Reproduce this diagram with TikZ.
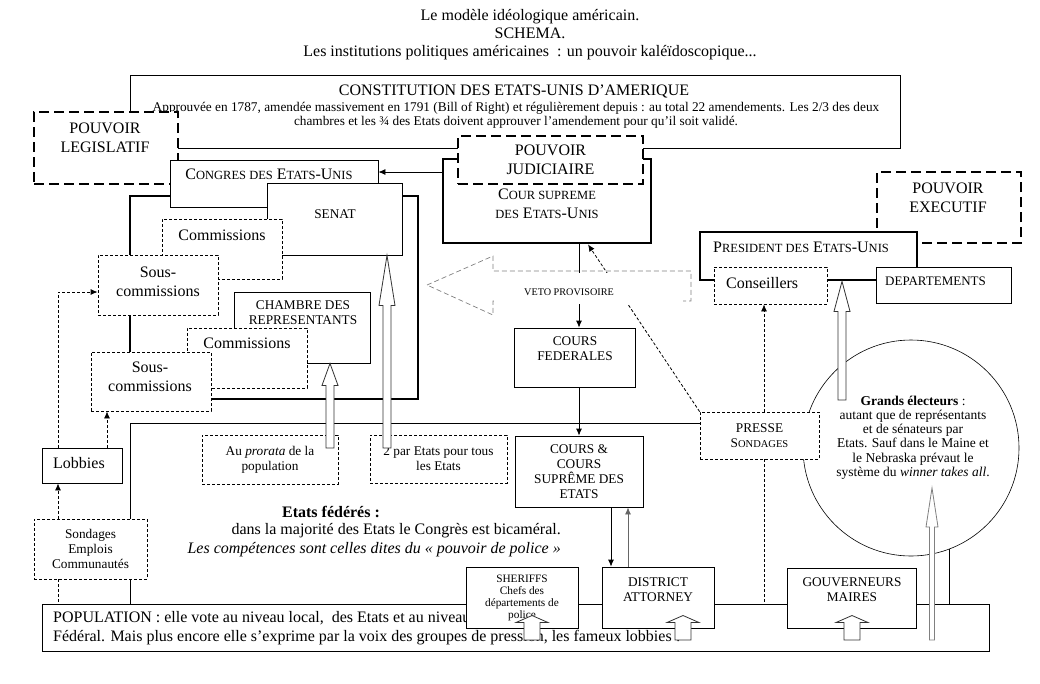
\documentclass[tikz,border=0pt]{standalone}
\usepackage{fontspec}
\setmainfont{Liberation Serif}
\usetikzlibrary{calc,positioning,arrows.meta}

% small capitals written by hand
\newcommand{\sca}[1]{{\fontsize{12.5}{12.5}\selectfont #1}}
\newcommand{\scb}[1]{{\fontsize{10.5}{10.5}\selectfont #1}}
% hollow arrow pointing up: style, tail, tip, head length, head half width, shaft half width
\newcommand{\blockarrow}[6]{%
  \draw[#1] ($(#2)+(-#6,0)$) -- ($(#3)+(-#6,#4)$) -- ($(#3)+(-#5,#4)$) -- (#3)
    -- ($(#3)+(#5,#4)$) -- ($(#3)+(#6,#4)$) -- ($(#2)+(#6,0)$) -- cycle;}

\tikzset{
  box/.style={draw, fill=white, line width=0.8pt, inner sep=0pt},
  thickbox/.style={box, line width=2.8pt},
  dbox/.style={box, dash pattern=on 3pt off 2pt},
  pouvoir/.style={box, line width=2.8pt, dash pattern=on 10pt off 5pt},
  txtbig/.style={font=\fontsize{16}{19}\selectfont, align=center, inner sep=0pt},
  txtmid/.style={font=\fontsize{13.3}{15}\selectfont, align=center, inner sep=0pt},
  txtsmall/.style={font=\fontsize{11.3}{12}\selectfont, align=center, inner sep=0pt},
  arr/.style={-{Latex[length=7pt,width=6pt]}, line width=0.8pt},
  darr/.style={arr, dash pattern=on 3pt off 2pt},
  dline/.style={line width=0.8pt, dash pattern=on 3pt off 2pt},
  hollow/.style={draw=black!80, fill=white, line width=0.8pt},
}

\begin{document}
\begin{tikzpicture}[x=1pt,y=-1pt]
\useasboundingbox (0,0) rectangle (1040,683);

% Title
\node[txtbig, font=\fontsize{16}{18}\selectfont] (title) at (530,35) {Le modèle idéologique américain.\\SCHEMA.\\Les institutions politiques américaines~ : un pouvoir kaléïdoscopique...};

% Frame of the congress
\draw[line width=2.8pt] (130,196) rectangle (418,399);

% Constitution
\node[box, minimum width=770pt, minimum height=73pt] (constitution) at (515,111.5) {};
\node[txtbig] (constitutionT) at (514,91) {CONSTITUTION DES ETATS-UNIS D’AMERIQUE};
\node[txtmid, font=\fontsize{13.3}{14.5}\selectfont] (constitutionS) at (516,115) {Approuvée en 1787, amendée massivement en 1791 (Bill of Right) et régulièrement depuis : au total 22 amendements. Les 2/3 des deux\\chambres et les ¾ des Etats doivent approuver l’amendement pour qu’il soit validé.};

% Legislative power
\node[pouvoir, minimum width=144pt, minimum height=72pt] (legislatif) at (106,148) {};
\node[txtbig] (legislatifT) at (105,137.5) {POUVOIR\\LEGISLATIF};

% Judicial power
\node[thickbox, minimum width=208pt, minimum height=84pt] (courSupreme) at (547,201) {};
\node[txtbig] (courSupremeT) at (547,203.5) {C\sca{OUR SUPREME}\\\sca{DES} E\sca{TATS}-U\sca{NIS}};
\node[pouvoir, txtbig, minimum width=185pt, minimum height=48pt] (judiciaire) at (550.5,160) {POUVOIR\\JUDICIAIRE};

% Congress, senate and house
\node[box, minimum width=208pt, minimum height=47pt] (congres) at (274,183.5) {};
\node[txtbig] (congresT) at (269,174) {C\sca{ONGRES DES} E\sca{TATS}-U\sca{NIS}};
\node[box, minimum width=135pt, minimum height=72pt] (senat) at (334.5,219) {};
\node[txtmid] (senatT) at (335,214) {SENAT};
\node[dbox, minimum width=120pt, minimum height=60pt] (comSenat) at (222,249) {};
\node[txtbig] (comSenatT) at (222,235) {Commissions};
\node[dbox, minimum width=120pt, minimum height=60pt] (sousSenat) at (158,285) {};
\node[txtbig] (sousSenatT) at (158,281.5) {Sous-\\commissions};
\node[box, minimum width=136pt, minimum height=71pt] (chambre) at (302,327.5) {};
\node[txtmid] (chambreT) at (303,312.5) {CHAMBRE DES\\REPRESENTANTS};
\node[dbox, minimum width=120pt, minimum height=60pt] (comChambre) at (247,358) {};
\node[txtbig] (comChambreT) at (247,343) {Commissions};
\node[dbox, minimum width=120pt, minimum height=59pt] (sousChambre) at (151,381.5) {};
\node[txtbig] (sousChambreT) at (150,376.5) {Sous-\\commissions};

% Executive power
\node[pouvoir, minimum width=144pt, minimum height=71pt] (executif) at (949,207.5) {};
\node[txtbig] (executifT) at (948,197.5) {POUVOIR\\EXECUTIF};
\node[thickbox, minimum width=217pt, minimum height=48pt] (president) at (808.5,256) {};
\node[txtbig] (presidentT) at (801,247) {P\sca{RESIDENT DES} E\sca{TATS}-U\sca{NIS}};
\node[dbox, minimum width=113pt, minimum height=37pt] (conseillers) at (770.5,285.5) {};
\node[txtbig, anchor=west] (conseillersT) at (726,283) {Conseillers};
\node[box, minimum width=135pt, minimum height=36pt] (departements) at (943.5,285) {};
\node[txtmid, font=\fontsize{13}{15}\selectfont, anchor=west] (departementsT) at (885,281) {DEPARTEMENTS};

% States frame and electors
\draw[line width=0.8pt] (130,423) rectangle (949,604);
\node[draw, circle, fill=white, line width=0.6pt, minimum size=216pt, inner sep=0pt] (electeurs) at (911,448) {};
\node[txtmid, font=\fontsize{13.5}{14.2}\selectfont] (electeursT) at (913,437.5) {\textbf{Grands électeurs} :\\autant que de représentants\\et de sénateurs par\\Etats. Sauf dans le Maine et\\le Nebraska prévaut le\\système du \textit{winner takes all}.};
\node[txtbig, font=\fontsize{16}{19}\selectfont\bfseries] (etatsT) at (331,512) {Etats fédérés :};
\node[txtbig, align=right, anchor=east] (etatsS) at (561,540.5) {dans la majorité des Etats le Congrès est bicaméral.\\\textit{Les compétences sont celles dites du « pouvoir de police »}};

% Courts and press
\node[dbox, txtmid, minimum width=136pt, minimum height=49pt] (prorata) at (270,459.5) {Au \textit{prorata} de la\\population};
\node[dbox, txtmid, minimum width=137pt, minimum height=48pt] (parEtats) at (438.5,459) {2 par Etats pour tous\\les Etats};
\node[box, minimum width=121pt, minimum height=59pt] (coursFed) at (574.5,357.5) {};
\node[txtmid] (coursFedT) at (575,349) {COURS\\FEDERALES};
\node[box, txtmid, minimum width=128pt, minimum height=71pt] (coursEtats) at (579,471.5) {COURS \&\\COURS\\SUPRÊME DES\\ETATS};
\node[dbox, txtmid, minimum width=119pt, minimum height=47pt] (presse) at (759.5,435.5) {PRESSE\\S\scb{ONDAGES}};

% Veto arrow
\draw[arr] (courSupreme.south -| coursEtats.north) -- (coursFed.north -| coursEtats.north);
\draw[arr] (coursFed.south -| coursEtats.north) -- (coursEtats.north);
\draw[darr] (presse.north west) -- ([xshift=41pt]courSupreme.south);
\draw[gray, line width=0.7pt, dash pattern=on 5pt off 3pt] (427,285) -- (493,256) -- (493,271) -- (691,271) -- (691,301) -- (493,301) -- (493,315) -- cycle;
\fill[white] (494,273) rectangle (683,303.5);
\node[font=\fontsize{10.2}{12}\selectfont, inner sep=0pt] (veto) at (569,292) {VETO PROVISOIRE};

% Court to congress
\coordinate (cgIn) at ([yshift=11.5pt]congres.east);
\draw[arr] (cgIn -| courSupreme.west) -- (cgIn);

% Press links
\coordinate (prT) at ([xshift=4.5pt]presse.north);
\draw[darr] (prT) -- (prT |- conseillers.south);
\draw[dline] (prT |- presse.south) -- (prT |- 0,604);

% Lobbies and polls
\node[box, minimum width=80pt, minimum height=35pt] (lobbies) at (82,465.5) {};
\node[txtbig, anchor=west] (lobbiesT) at (53,463) {Lobbies};
\node[dbox, txtmid, minimum width=113pt, minimum height=60pt] (sondages) at (90.5,549) {Sondages\\Emplois\\Communautés};
\coordinate (lbL) at ([xshift=-24pt]lobbies.north);
\coordinate (lbR) at ([xshift=25pt]lobbies.north);
\draw[darr] (lbL) |- ([yshift=-7pt]sousSenat.west);
\draw[darr] (lbR) -- (lbR |- sousChambre.south);
\draw[darr] (sondages.north -| lbL) -- (lobbies.south -| lbL);

% Population
\node[box, minimum width=947pt, minimum height=47pt] (population) at (515.5,627.5) {};
\draw[dline] (sondages.south -| lbL) -- (population.north -| lbL);
\node[txtbig, align=left, anchor=west] (populationT) at (53,628.5) {POPULATION : elle vote au niveau local,~ des Etats et au niveau\\Fédéral. Mais plus encore elle s’exprime par la voix des groupes de pression, les fameux lobbies !};
\node[box, txtsmall, minimum width=112pt, minimum height=61pt] (sheriffs) at (522,597.5) {SHERIFFS\\Chefs des\\départements de\\police};
\node[box, minimum width=112pt, minimum height=61pt] (district) at (658,597.5) {};
\node[txtmid] (districtT) at (658,589.5) {DISTRICT\\ATTORNEY};
\node[box, minimum width=129pt, minimum height=60pt] (gouverneurs) at (851.5,598) {};
\node[txtmid] (gouverneursT) at (852,589.5) {GOUVERNEURS\\MAIRES};

% State courts and district attorney
\coordinate (ceA) at ([xshift=32pt]coursEtats.south);
\coordinate (ceB) at ([xshift=49pt]coursEtats.south);
\draw[arr] (ceA) -- (ceA |- district.north);
\draw[arr, black!60] (ceB |- district.north) -- (ceB);

% Hollow arrows
\coordinate (sA) at (387,448);
\coordinate (sTip) at (sA |- senat.south);
\blockarrow{hollow}{sA}{sTip}{50}{8}{4}
\coordinate (cA) at (330,448);
\coordinate (cTip) at (cA |- chambre.south);
\blockarrow{hollow}{cA}{cTip}{22}{8}{4}
\coordinate (pA) at (842,400);
\coordinate (pTip) at (pA |- president.south);
\blockarrow{hollow}{pA}{pTip}{30}{8}{4}
\coordinate (gA) at (932,640);
\coordinate (gTip) at (932,488);
\blockarrow{hollow, draw=gray}{gA}{gTip}{39}{6}{2.5}
\foreach \n/\x in {sh/532, da/683, go/852} {
  \coordinate (\n A) at (\x,640);
  \coordinate (\n Tip) at (\x,615.5);
  \blockarrow{hollow}{\n A}{\n Tip}{7}{16}{8}
}

\end{tikzpicture}
\end{document}
